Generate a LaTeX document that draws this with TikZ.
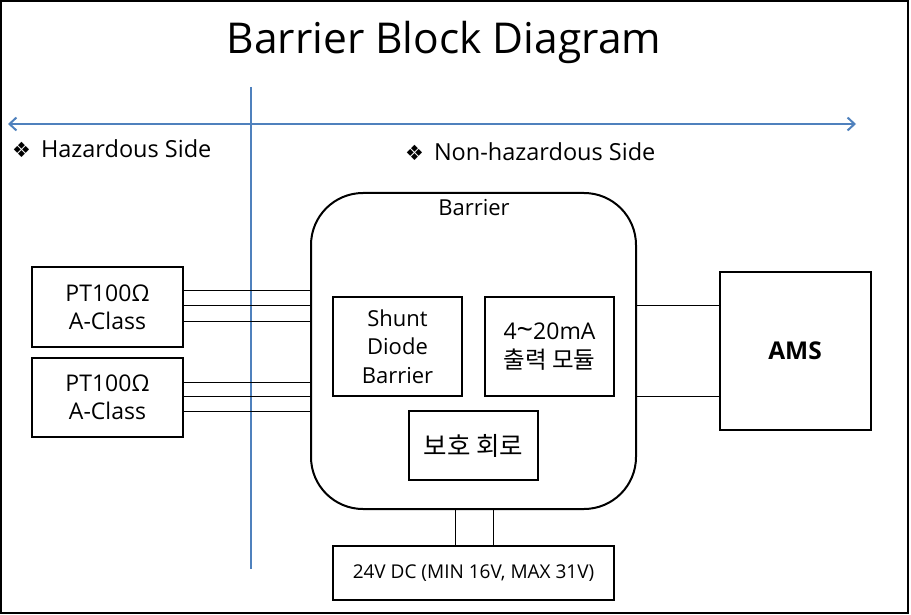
\documentclass[tikz,border=0pt]{standalone}
\usepackage{fontspec}
\setmainfont{Open Sans}
\newfontfamily\kr{Noto Sans CJK KR}
\newfontfamily\sym{DejaVu Sans}
\usetikzlibrary{arrows.meta}
\definecolor{sideblue}{RGB}{79,129,189}
\tikzset{
  blk/.style={draw=black, line width=2pt, align=center, inner sep=0pt},
  wire/.style={draw=black, line width=0.8pt},
  sideline/.style={draw=sideblue, line width=2pt},
  lbl/.style={inner sep=0pt, font=\fontsize{23.5}{28}\selectfont},
}
\begin{document}
\begin{tikzpicture}[x=1pt,y=-1pt]
\useasboundingbox (0,0) rectangle (911,615);
\draw[line width=2.5pt] (1.2,1.2) rectangle (908,613);
% title
\node[inner sep=0pt, font=\fontsize{42.5}{50}\selectfont] (title) at (444,42) {Barrier Block Diagram};
% side arrow and divider
\coordinate (aL) at (8,124);
\coordinate (aR) at (856,124);
\draw[sideline, {Straight Barb[length=7pt,width=13pt,line width=2pt]}-{Straight Barb[length=7pt,width=13pt,line width=2pt]}] (aL) -- (aR);
\coordinate (vT) at (251,87);
\coordinate (vB) at (251,569);
\draw[sideline] (vT) -- (vB);
\node[lbl, anchor=west] (haz) at (12,149) {{\sym\fontsize{21}{24}\selectfont ❖}\hspace{10pt}Hazardous Side};
\node[lbl, anchor=west] (nonhaz) at (405,152) {{\sym\fontsize{21}{24}\selectfont ❖}\hspace{10pt}Non-hazardous Side};
% barrier
\draw[blk, rounded corners=52pt] (311,193) rectangle (636,509);
\coordinate (barL) at (311,300);
\coordinate (barR) at (636,300);
\node[inner sep=0pt, font=\fontsize{22}{26}\selectfont] (barrierlbl) at (474,208) {Barrier};
\node[blk, minimum width=129pt, minimum height=99pt, font=\fontsize{22}{28.5}\selectfont] (shunt) at (397.5,346.5) {Shunt\\Diode\\Barrier};
\node[blk, minimum width=129pt, minimum height=99pt, font=\fontsize{23}{29}\selectfont] (out) at (549.5,346.5) {4{\fontsize{29}{29}\selectfont\textasciitilde}20mA\\{\kr\fontsize{23.5}{29}\selectfont 출력 모듈}};
\node[blk, minimum width=129pt, minimum height=69pt, font=\kr\fontsize{25.5}{30}\selectfont] (prot) at (473.5,445.5) {보호 회로};
% PT100 boxes
\node[blk, minimum width=151pt, minimum height=80pt, font=\fontsize{23}{28}\selectfont] (pt1) at (107.5,307) {PT100Ω\\A-Class};
\node[blk, minimum width=151pt, minimum height=79pt, font=\fontsize{23}{28}\selectfont] (pt2) at (107.5,397.5) {PT100Ω\\A-Class};
\foreach \y in {290,305,321} {\draw[wire] (pt1.east |- 0,\y) -- (barL |- 0,\y);}
\foreach \y in {382,396,411} {\draw[wire] (pt2.east |- 0,\y) -- (barL |- 0,\y);}
% AMS
\node[blk, minimum width=151pt, minimum height=158pt, font=\bfseries\fontsize{24.5}{28}\selectfont] (ams) at (795,351) {AMS};
\foreach \y in {305,396} {\draw[wire] (barR |- 0,\y) -- (ams.west |- 0,\y);}
% power supply
\node[blk, minimum width=281pt, minimum height=54pt, font=\fontsize{19}{22}\selectfont] (psu) at (473.5,573) {24V DC (MIN 16V, MAX 31V)};
\foreach \x in {455,493} {\draw[wire] (\x,509) -- (psu.north -| \x,0);}
\end{tikzpicture}
\end{document}
